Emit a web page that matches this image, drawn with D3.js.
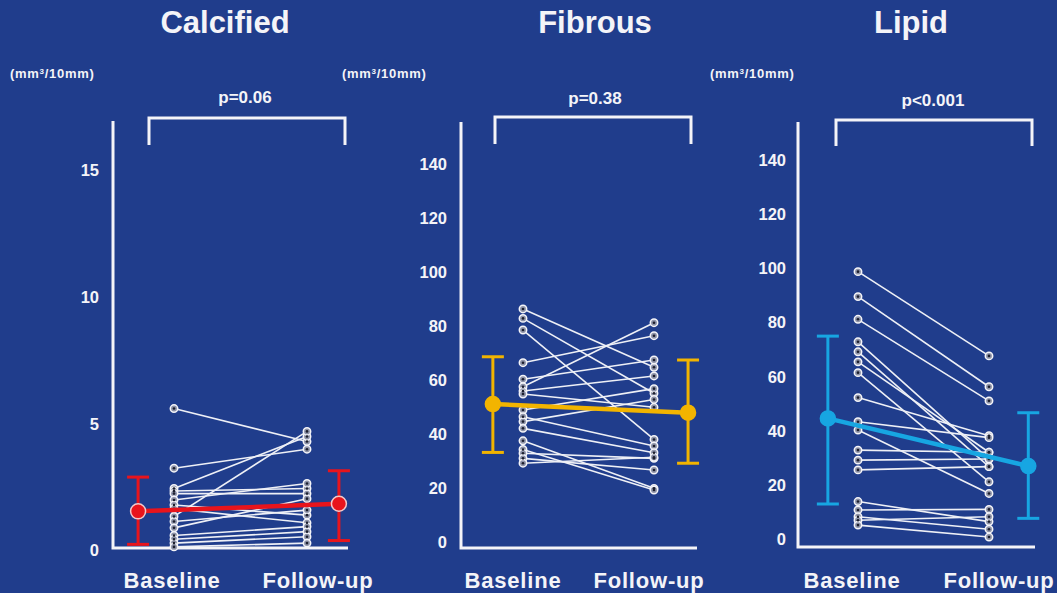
<!DOCTYPE html>
<html>
<head>
<meta charset="utf-8">
<script src="https://cdnjs.cloudflare.com/ajax/libs/d3/7.8.5/d3.min.js"></script>
<style>
  html, body { margin: 0; padding: 0; background: #203d8c; }
  svg { display: block; }
  text { font-family: "Liberation Sans", Arial, sans-serif; font-weight: bold; fill: #f4f4f8; }
</style>
</head>
<body>
<svg id="chart" width="1057" height="593"></svg>
<script>
// Plaque component volumes per 10 mm segment, baseline vs follow-up.
const categories = ["Baseline", "Follow-up"];
const panelTitles = ["Calcified", "Fibrous", "Lipid"];
const pValueLabels = ["p=0.06", "p=0.38", "p<0.001"];
const unitLabel = ["(mm", "3", "/10mm)"];

// Calcified (mm3/10mm): paired patient values
const calcifiedBaseline = [5.6, 3.25, 2.45, 2.35, 2.25, 2.0, 1.8, 1.65, 1.35, 1.15, 0.9, 0.6, 0.45, 0.3, 0.15];
const calcifiedFollowUp = [4.3, 4.0, 4.5, 2.45, 2.25, 2.65, 1.4, 1.1, 4.7, 1.6, 2.05, 0.95, 0.75, 0.55, 0.3];
const calcifiedMean = [1.55, 1.85];
const calcifiedLow = [0.25, 0.4];
const calcifiedHigh = [2.9, 3.15];
const calcifiedTicks = [0, 5, 10, 15];

// Fibrous (mm3/10mm)
const fibrousBaseline = [86.4, 82.9, 78.6, 66.5, 60.4, 57.6, 56.0, 54.9, 49.0, 46.5, 44.7, 42.2, 37.6, 34.4, 33.0, 31.1, 29.3];
const fibrousFollowUp = [64.8, 55.2, 38.1, 76.5, 67.5, 81.3, 61.6, 50.0, 56.9, 35.7, 52.9, 33.2, 20.0, 19.4, 31.1, 26.8, 31.5];
const fibrousMean = [51.2, 48.0];
const fibrousLow = [33.3, 29.3];
const fibrousHigh = [68.7, 67.5];
const fibrousTicks = [0, 20, 40, 60, 80, 100, 120, 140];

// Lipid (mm3/10mm)
const lipidBaseline = [98.8, 89.6, 81.2, 72.9, 69.2, 65.5, 61.5, 52.3, 43.4, 40.3, 32.9, 29.2, 25.6, 13.9, 10.8, 8.3, 7.0, 5.2];
const lipidFollowUp = [67.7, 56.3, 51.1, 29.6, 26.8, 32.1, 21.2, 38.2, 37.5, 16.9, 32.1, 29.6, 26.8, 6.5, 11.0, 3.7, 8.3, 0.8];
const lipidMean = [44.6, 27.0];
const lipidLow = [13.0, 7.7];
const lipidHigh = [75.0, 46.7];
const lipidTicks = [0, 20, 40, 60, 80, 100, 120, 140];

const meanColors = ["#e8141c", "#f2b400", "#17a6e2"];

// Panel layout (pixels)
const panels = [
  { base: calcifiedBaseline, follow: calcifiedFollowUp, mean: calcifiedMean, low: calcifiedLow, high: calcifiedHigh,
    ticks: calcifiedTicks, yDomain: [0, 15], yRange: [550.7, 170],
    axisX: 113, axisTop: 121, floorY: 548, floorEnd: 348, tickPad: 14,
    xBase: 174, xFollow: 307, meanOffsets: [-0.27, 1.24],
    bracket: [149, 345, 118, 145], pX: 245, pY: 103, titleX: 225, unitX: 10,
    labelX: [172, 318] },
  { base: fibrousBaseline, follow: fibrousFollowUp, mean: fibrousMean, low: fibrousLow, high: fibrousHigh,
    ticks: fibrousTicks, yDomain: [0, 140], yRange: [542.4, 164.1],
    axisX: 461, axisTop: 122, floorY: 548, floorEnd: 697, tickPad: 14,
    xBase: 523, xFollow: 654, meanOffsets: [-0.23, 1.26],
    bracket: [495, 691, 117, 144], pX: 595, pY: 104, titleX: 595, unitX: 342,
    labelX: [513, 649] },
  { base: lipidBaseline, follow: lipidFollowUp, mean: lipidMean, low: lipidLow, high: lipidHigh,
    ticks: lipidTicks, yDomain: [0, 140], yRange: [539.2, 160.1],
    axisX: 798, axisTop: 122, floorY: 547, floorEnd: 1035, tickPad: 12,
    xBase: 858, xFollow: 989, meanOffsets: [-0.23, 1.3],
    bracket: [836, 1032, 120, 146], pX: 933, pY: 106, titleX: 911, unitX: 710,
    labelX: [852, 999] }
];

const svg = d3.select("#chart");
svg.append("rect").attr("width", 1057).attr("height", 593).attr("fill", "#203d8c");

panels.forEach((p, i) => {
  const g = svg.append("g");
  const y = d3.scaleLinear().domain(p.yDomain).range(p.yRange);
  const x = d3.scaleLinear().domain([0, 1]).range([p.xBase, p.xFollow]);
  const color = meanColors[i];

  // Title
  g.append("text").attr("x", p.titleX).attr("y", 33).attr("text-anchor", "middle")
    .style("font-size", "31px").text(panelTitles[i]);

  // Unit label with superscript
  const u = g.append("text").attr("x", p.unitX).attr("y", 78)
    .style("font-size", "13px").style("letter-spacing", "0.7px");
  u.append("tspan").text(unitLabel[0]);
  u.append("tspan").attr("dy", -4).style("font-size", "8px").text(unitLabel[1]);
  u.append("tspan").attr("dy", 4).text(unitLabel[2]);

  // Significance bracket and p-value
  const [bl, br, bt, bb] = p.bracket;
  g.append("path").attr("d", `M${bl},${bb}V${bt}H${br}V${bb}`)
    .attr("fill", "none").attr("stroke", "#f4f4f8").attr("stroke-width", 3);
  g.append("text").attr("x", p.pX).attr("y", p.pY).attr("text-anchor", "middle")
    .style("font-size", "17px").text(pValueLabels[i]);

  // Axes frame
  g.append("path").attr("d", `M${p.axisX},${p.axisTop}V${p.floorY}H${p.floorEnd}`)
    .attr("fill", "none").attr("stroke", "#f4f4f8").attr("stroke-width", 3);

  // Tick labels
  const ax = g.append("g").attr("transform", `translate(${p.axisX},0)`)
    .call(d3.axisLeft(y).tickValues(p.ticks).tickSize(0).tickPadding(p.tickPad));
  ax.select(".domain").remove();
  ax.selectAll("text").attr("fill", "#f4f4f8").style("font-size", "16.5px")
    .style("font-family", "'Liberation Sans', Arial, sans-serif").style("font-weight", "bold");

  // Category labels
  categories.forEach((c, k) => {
    g.append("text").attr("x", p.labelX[k]).attr("y", 588).attr("text-anchor", "middle")
      .style("font-size", "22px").style("letter-spacing", "0.8px").text(c);
  });

  // Individual paired lines
  const pairs = p.base.map((b, k) => [b, p.follow[k]]);
  g.append("g").selectAll("line").data(pairs).join("line")
    .attr("x1", x(0)).attr("x2", x(1))
    .attr("y1", d => y(d[0])).attr("y2", d => y(d[1]))
    .attr("stroke", "#eef0f6").attr("stroke-width", 1.6);

  // Individual points: white ring with a dark core
  const pts = [];
  pairs.forEach(d => { pts.push([0, d[0]]); pts.push([1, d[1]]); });
  const pg = g.append("g");
  pg.selectAll("circle.ring").data(pts).join("circle").attr("class", "ring")
    .attr("cx", d => x(d[0])).attr("cy", d => y(d[1])).attr("r", 3.7)
    .attr("fill", "#8e93a8").attr("stroke", "#f4f4f8").attr("stroke-width", 1.5);
  pg.selectAll("circle.core").data(pts).join("circle").attr("class", "core")
    .attr("cx", d => x(d[0])).attr("cy", d => y(d[1])).attr("r", 1.3)
    .attr("fill", "#1c1f2e");

  // Mean ± SD
  const mx = p.meanOffsets.map(o => x(o));
  g.append("line").attr("x1", mx[0]).attr("x2", mx[1])
    .attr("y1", y(p.mean[0])).attr("y2", y(p.mean[1]))
    .attr("stroke", color).attr("stroke-width", 4.5);
  [0, 1].forEach(k => {
    const eg = g.append("g").attr("stroke", color).attr("stroke-width", 3);
    eg.append("line").attr("x1", mx[k]).attr("x2", mx[k]).attr("y1", y(p.low[k])).attr("y2", y(p.high[k]));
    eg.append("line").attr("x1", mx[k] - 11).attr("x2", mx[k] + 11).attr("y1", y(p.low[k])).attr("y2", y(p.low[k]));
    eg.append("line").attr("x1", mx[k] - 11).attr("x2", mx[k] + 11).attr("y1", y(p.high[k])).attr("y2", y(p.high[k]));
    g.append("circle").attr("cx", mx[k]).attr("cy", y(p.mean[k])).attr("r", 7.5)
      .attr("fill", color).attr("stroke", i === 0 ? "#f3c9c9" : color).attr("stroke-width", 1.5);
  });
});
</script>
</body>
</html>
